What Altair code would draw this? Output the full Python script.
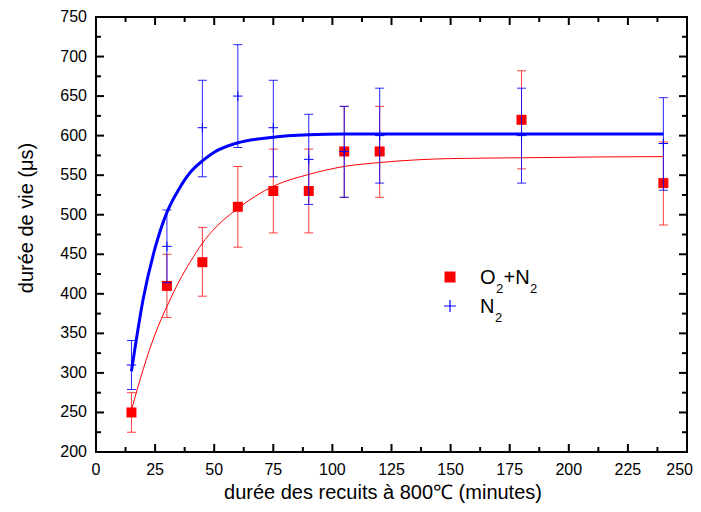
import altair as alt
import pandas as pd

# ---- data ----
x_vals = [15, 30, 45, 60, 75, 90, 105, 120, 180, 240]
o2n2_y = [250, 410, 440, 510, 530, 530, 580, 580, 620, 540]
o2n2_lo = [225, 370, 397, 459, 477, 477, 522, 522, 558, 487]
o2n2_hi = [275, 450, 484, 561, 583, 583, 637, 637, 682, 592]
n2_y = [310, 460, 610, 650, 610, 570, 580, 600, 600, 590]
n2_lo = [279, 414, 548, 585, 548, 513, 522, 540, 540, 531]
n2_hi = [341, 506, 670, 715, 670, 627, 637, 660, 660, 648]

fit_x = [15, 20, 25, 30, 35, 40, 45, 50, 60, 75, 90, 105, 120, 150, 180, 210, 240]
fit_n2 = [302, 394, 458, 503, 532, 554, 568, 579, 591, 598, 601, 602, 602, 602, 602, 602, 602]
fit_o2n2 = [253, 305, 349, 384, 415, 441, 464, 482, 508, 536, 551, 561, 566, 571, 572, 573, 573.5]

x_major = [0, 25, 50, 75, 100, 125, 150, 175, 200, 225, 250]
x_minor = [12.5, 37.5, 62.5, 87.5, 112.5, 137.5, 162.5, 187.5, 212.5, 237.5]
y_major = [200, 250, 300, 350, 400, 450, 500, 550, 600, 650, 700, 750]
y_minor = [225, 275, 325, 375, 425, 475, 525, 575, 625, 675, 725]

x_title = "durée des recuits à 800℃ (minutes)"
y_title = "durée de vie (μs)"

W, H = 591, 435
RED = "#ff0000"
BLUE = "#0000ff"
FONT = "Liberation Sans"

xs = alt.Scale(domain=[0, 250], nice=False, zero=False)
ys = alt.Scale(domain=[200, 750], nice=False, zero=False)

pts = pd.DataFrame({"x": x_vals, "o_y": o2n2_y, "o_lo": o2n2_lo, "o_hi": o2n2_hi,
                    "n_y": n2_y, "n_lo": n2_lo, "n_hi": n2_hi})
fit = pd.DataFrame({"x": fit_x, "n": fit_n2, "o": fit_o2n2})

base = alt.Chart(pts)

# red series
red_curve = alt.Chart(fit).mark_line(color=RED, strokeWidth=1, interpolate="monotone").encode(
    x=alt.X("x:Q", scale=xs, axis=None), y=alt.Y("o:Q", scale=ys, axis=None))
red_bar = base.mark_rule(color=RED, strokeWidth=1, opacity=0.75).encode(
    x=alt.X("x:Q", scale=xs, axis=None), y=alt.Y("o_lo:Q", scale=ys, axis=None), y2="o_hi:Q")
red_cap_lo = base.mark_tick(color=RED, orient="horizontal", size=9, thickness=1, opacity=0.75).encode(
    x=alt.X("x:Q", scale=xs, axis=None), y=alt.Y("o_lo:Q", scale=ys, axis=None))
red_cap_hi = base.mark_tick(color=RED, orient="horizontal", size=9, thickness=1, opacity=0.75).encode(
    x=alt.X("x:Q", scale=xs, axis=None), y=alt.Y("o_hi:Q", scale=ys, axis=None))
red_pts = base.mark_point(shape="square", filled=True, color=RED, size=100, opacity=1).encode(
    x=alt.X("x:Q", scale=xs, axis=None), y=alt.Y("o_y:Q", scale=ys, axis=None))

# blue series
blue_curve = alt.Chart(fit).mark_line(color=BLUE, strokeWidth=3, interpolate="monotone").encode(
    x=alt.X("x:Q", scale=xs, axis=None), y=alt.Y("n:Q", scale=ys, axis=None))
blue_bar = base.mark_rule(color=BLUE, strokeWidth=1, opacity=0.85).encode(
    x=alt.X("x:Q", scale=xs, axis=None), y=alt.Y("n_lo:Q", scale=ys, axis=None), y2="n_hi:Q")
blue_cap_lo = base.mark_tick(color=BLUE, orient="horizontal", size=9, thickness=1, opacity=0.85).encode(
    x=alt.X("x:Q", scale=xs, axis=None), y=alt.Y("n_lo:Q", scale=ys, axis=None))
blue_cap_hi = base.mark_tick(color=BLUE, orient="horizontal", size=9, thickness=1, opacity=0.85).encode(
    x=alt.X("x:Q", scale=xs, axis=None), y=alt.Y("n_hi:Q", scale=ys, axis=None))
CROSS = "M-1,0L1,0M0,-1L0,1"
blue_pts = base.mark_point(shape=CROSS, filled=False, stroke=BLUE, strokeWidth=1, size=90, opacity=1).encode(
    x=alt.X("x:Q", scale=xs, axis=None), y=alt.Y("n_y:Q", scale=ys, axis=None))


# inward ticks on all four sides
def tick_layer(vals, L, side):
    c = alt.Chart(pd.DataFrame({"v": vals})).mark_rule(color="black", strokeWidth=2)
    if side == "bottom":
        return c.encode(x=alt.X("v:Q", scale=xs, axis=None), y=alt.value(H), y2=alt.value(H - L))
    if side == "top":
        return c.encode(x=alt.X("v:Q", scale=xs, axis=None), y=alt.value(0), y2=alt.value(L))
    if side == "left":
        return c.encode(y=alt.Y("v:Q", scale=ys, axis=None), x=alt.value(0), x2=alt.value(L))
    return c.encode(y=alt.Y("v:Q", scale=ys, axis=None), x=alt.value(W), x2=alt.value(W - L))


ticks = []
for s in ["bottom", "top"]:
    ticks.append(tick_layer(x_major, 8, s))
    ticks.append(tick_layer(x_minor, 5, s))
for s in ["left", "right"]:
    ticks.append(tick_layer(y_major, 8, s))
    ticks.append(tick_layer(y_minor, 5, s))

# tick labels through the scales (last x label kept inside the page)
xlab_src = alt.Chart(pd.DataFrame({"v": x_major}))
x_labels = xlab_src.mark_text(
    font=FONT, fontSize=16, color="black", align="center", baseline="top").encode(
    x=alt.X("v:Q", scale=xs, axis=None), y=alt.value(H + 10), text=alt.Text("v:Q", format="d")
).transform_filter(alt.datum.v < 250)
x_label_last = xlab_src.mark_text(
    font=FONT, fontSize=16, color="black", align="right", baseline="top", dx=6).encode(
    x=alt.X("v:Q", scale=xs, axis=None), y=alt.value(H + 10), text=alt.Text("v:Q", format="d")
).transform_filter(alt.datum.v >= 250)
y_labels = alt.Chart(pd.DataFrame({"v": y_major})).mark_text(
    font=FONT, fontSize=16, color="black", align="right", baseline="middle").encode(
    y=alt.Y("v:Q", scale=ys, axis=None), x=alt.value(-9), text=alt.Text("v:Q", format="d"))

one = alt.Chart(pd.DataFrame({"a": [0]}))

# axis titles
x_tt = one.mark_text(text=x_title, font=FONT, fontSize=20, color="black", align="center",
                     baseline="alphabetic").encode(x=alt.value(287), y=alt.value(H + 47))
y_tt = one.mark_text(text=y_title, font=FONT, fontSize=20, color="black", align="center",
                     baseline="alphabetic", angle=270).encode(x=alt.value(-63), y=alt.value(201))

# legend (drawn by hand)
leg_sq = one.mark_point(shape="square", filled=True, color=RED, size=121, opacity=1).encode(
    x=alt.value(354), y=alt.value(260))
leg_plus = one.mark_point(shape=CROSS, filled=False, stroke=BLUE, strokeWidth=1.2, size=144, opacity=1).encode(
    x=alt.value(354), y=alt.value(289))


def txt(t, x, y, size):
    return one.mark_text(text=t, font=FONT, fontSize=size, color="black", align="left",
                         baseline="alphabetic").encode(x=alt.value(x), y=alt.value(y))


legend = [
    txt("O", 384, 267, 20), txt("2", 400, 276, 13), txt("+N", 407.5, 267, 20), txt("2", 434, 276, 13),
    txt("N", 384, 296, 20), txt("2", 399, 305, 13),
]

chart = alt.layer(
    red_curve, *ticks, red_bar, red_cap_lo, red_cap_hi, red_pts,
    blue_curve, blue_bar, blue_cap_lo, blue_cap_hi, blue_pts,
    x_labels, x_label_last, y_labels, x_tt, y_tt,
    leg_sq, leg_plus, *legend
).properties(
    width=W, height=H,
    autosize=alt.AutoSizeParams(type="none"),
    padding={"left": 88, "top": 9, "right": 6, "bottom": 52},
    background="white",
).configure_view(stroke="black", strokeWidth=2)

chart.save("out.html", embed_options={"renderer": "svg", "actions": False})
